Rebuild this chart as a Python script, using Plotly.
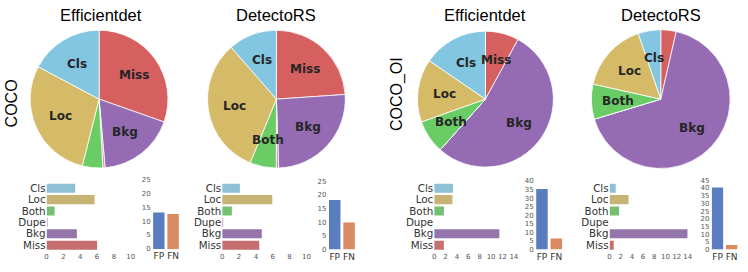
import math
import colorsys
import plotly.graph_objects as go

W, H = 748, 272

# ---------------- data ----------------
error_types = ["Cls", "Loc", "Both", "Dupe", "Bkg", "Miss"]
special_types = ["FP", "FN"]
models = ["Efficientdet", "DetectoRS", "Efficientdet", "DetectoRS"]
datasets = ["COCO", "COCO_OI"]

effdet_coco_main = [3.4, 5.7, 0.95, 0.1, 3.6, 6.0]
detectors_coco_main = [2.1, 5.95, 1.14, 0.1, 4.7, 4.4]
effdet_oi_main = [3.3, 3.2, 1.7, 0.0, 11.45, 1.7]
detectors_oi_main = [1.1, 3.4, 1.7, 0.0, 13.95, 0.75]

effdet_coco_special = [13.1, 12.6]
detectors_coco_special = [18.2, 9.95]
effdet_oi_special = [35.3, 6.4]
detectors_oi_special = [40.3, 2.9]

main_ticks_coco = [0, 2, 4, 6, 8, 10]
main_ticks_oi = [0, 2, 4, 6, 8, 10, 12, 14]
special_ticks_coco = [0, 5, 10, 15, 20, 25]
special_ticks_oi_eff = [0, 5, 10, 15, 20, 25, 30, 35, 40]
special_ticks_oi_det = [0, 5, 10, 15, 20, 25, 30, 35, 40, 45]

main_data = [effdet_coco_main, detectors_coco_main, effdet_oi_main, detectors_oi_main]
special_data = [effdet_coco_special, detectors_coco_special, effdet_oi_special, detectors_oi_special]
main_ticks = [main_ticks_coco, main_ticks_coco, main_ticks_oi, main_ticks_oi]
special_ticks = [special_ticks_coco, special_ticks_coco, special_ticks_oi_eff, special_ticks_oi_det]

# ---------------- styling ----------------
main_colors = ["#82C6E2", "#D5BB67", "#6ACC64", "#DC7EC0", "#956CB4", "#D65F5F"]
special_colors = ["#4878D0", "#EE854A"]


def desat(hexcol, s=0.75):
    r, g, b = (int(hexcol[i:i + 2], 16) / 255 for i in (1, 3, 5))
    h, l, sat = colorsys.rgb_to_hls(r, g, b)
    r, g, b = colorsys.hls_to_rgb(h, l, sat * s)
    return "#%02x%02x%02x" % (round(r * 255), round(g * 255), round(b * 255))


# layout geometry in pixels
pies = [(98, 98, 71), (277, 98, 71), (488, 98, 70), (665, 98, 71.5)]
title_x = [100, 276.7, 487.5, 665.3]
hbar_x = [(45, 130), (222.3, 307.3), (436.3, 516.7), (613.3, 692.3)]
hbar_y = (183.9, 254.4)
special_x = [(151.1, 179.9), (328.6, 357.6), (537.8, 566.8), (715.2, 743.6)]
special_y = [(181, 252.3), (182.7, 253), (182.3, 253), (181.7, 253)]


def px(x):
    return x / W


def py(y):
    return 1 - y / H


fig = go.Figure()
annotations = []
layout_axes = {}

label_font = dict(family="DejaVu Sans", size=10.3, color="#333333")
num_font = dict(family="DejaVu Sans", size=7, color="#555555")

for i in range(4):
    cx, cy, r = pies[i]
    vals = main_data[i]
    # slices go counter-clockwise from 12 o'clock in order Cls..Miss,
    # i.e. clockwise from 12 o'clock in reversed order Miss..Cls
    fig.add_trace(go.Pie(
        values=vals[::-1], labels=error_types[::-1], sort=False,
        direction="clockwise", rotation=0,
        marker=dict(colors=main_colors[::-1], line=dict(color="white", width=0.8)),
        textinfo="none", hoverinfo="label+value", showlegend=False,
        domain=dict(x=[px(cx - r), px(cx + r)], y=[py(cy + r), py(cy - r)]),
    ))
    total = sum(vals)
    cum = 0.0
    for name, v in zip(error_types, vals):
        mid = (cum + v / 2) / total * 2 * math.pi
        cum += v
        if v / total > 0.05:
            lx = cx - 0.6 * r * math.sin(mid)
            ly = cy - 0.6 * r * math.cos(mid)
            annotations.append(dict(
                x=px(lx), y=py(ly), xref="paper", yref="paper",
                text="<b>%s</b>" % name, showarrow=False,
                xanchor="center", yanchor="middle",
                font=dict(family="DejaVu Sans", size=12, color="#262626"),
            ))
    annotations.append(dict(
        x=px(title_x[i]), y=py(11), xref="paper", yref="paper",
        text=models[i], showarrow=False, xanchor="center", yanchor="middle",
        font=dict(family="Liberation Sans", size=16.5, color="black"),
    ))

    # horizontal error bars
    ax = 2 * i + 1
    xa, ya = ("x%d" % ax, "y%d" % ax)
    fig.add_trace(go.Bar(
        x=vals, y=error_types, orientation="h", width=0.8,
        marker=dict(color=[desat(c) for c in main_colors], line=dict(width=0)),
        xaxis=xa, yaxis=ya, showlegend=False, hoverinfo="y+x",
    ))
    mt = main_ticks[i]
    layout_axes["xaxis%d" % ax] = dict(
        domain=[px(hbar_x[i][0]), px(hbar_x[i][1])], range=[0, mt[-1]],
        anchor=ya, tickmode="array", tickvals=mt, tickfont=num_font, tickangle=0,
        showgrid=False, zeroline=False, showline=False, ticks="",
    )
    layout_axes["yaxis%d" % ax] = dict(
        domain=[py(hbar_y[1]), py(hbar_y[0])], anchor=xa, type="category",
        categoryorder="array", categoryarray=error_types,
        tickmode="array", tickvals=error_types, ticktext=error_types,
        range=[len(error_types) - 0.5, -0.5], tickfont=label_font,
        showgrid=False, zeroline=False, showline=False, ticks="",
    )

    # FP / FN bars
    ax2 = 2 * i + 2
    xa2, ya2 = ("x%d" % ax2, "y%d" % ax2)
    fig.add_trace(go.Bar(
        x=special_types, y=special_data[i], width=0.8,
        marker=dict(color=[desat(c) for c in special_colors], line=dict(width=0)),
        xaxis=xa2, yaxis=ya2, showlegend=False, hoverinfo="x+y",
    ))
    st = special_ticks[i]
    layout_axes["xaxis%d" % ax2] = dict(
        domain=[px(special_x[i][0]), px(special_x[i][1])], range=[-0.5, 1.5],
        anchor=ya2, type="category", tickangle=0,
        tickmode="array", tickvals=special_types, ticktext=special_types,
        tickfont=dict(family="DejaVu Sans", size=9, color="#333333"),
        showgrid=False, zeroline=False, showline=False, ticks="",
    )
    layout_axes["yaxis%d" % ax2] = dict(
        domain=[py(special_y[i][1]), py(special_y[i][0])], range=[0, st[-1]],
        anchor=xa2, tickmode="array", tickvals=st, tickfont=num_font,
        showgrid=False, zeroline=False, showline=False, ticks="",
    )

# row labels
annotations.append(dict(
    x=px(10), y=py(102.5), xref="paper", yref="paper", text=datasets[0],
    showarrow=False, textangle=-90, xanchor="center", yanchor="middle",
    font=dict(family="Liberation Sans", size=16, color="black"),
))
annotations.append(dict(
    x=px(399), y=py(92.5), xref="paper", yref="paper", text=datasets[1],
    showarrow=False, textangle=-90, xanchor="center", yanchor="middle",
    font=dict(family="Liberation Sans", size=16, color="black"),
))

fig.update_layout(
    width=W, height=H, margin=dict(l=0, r=0, t=0, b=0),
    paper_bgcolor="white", plot_bgcolor="white",
    annotations=annotations, bargap=0.2, **layout_axes,
)

fig.write_html(
    "out.html",
    config={"displayModeBar": False},
    post_script="document.body.style.margin='0';document.body.style.padding='0';"
                "document.body.style.overflow='hidden';"
                "document.documentElement.style.overflow='hidden';",
)
